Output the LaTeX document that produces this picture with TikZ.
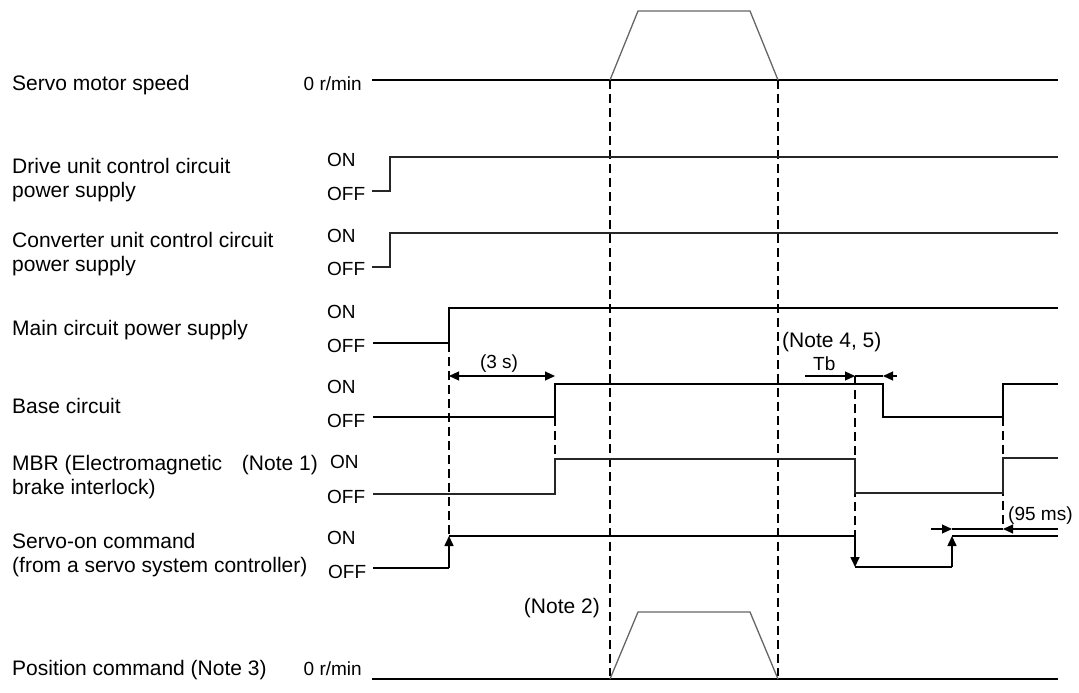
\documentclass[tikz,border=0pt]{standalone}
\usepackage{fontspec}
\setmainfont{Liberation Sans}
\usetikzlibrary{arrows.meta}
\begin{document}
\begin{tikzpicture}[x=1pt,y=-1pt,
  title/.style={anchor=base west,inner sep=0pt,font=\fontsize{21}{24}\selectfont},
  titler/.style={anchor=base east,inner sep=0pt,font=\fontsize{21}{24}\selectfont},
  lvl/.style={anchor=base west,inner sep=0pt,font=\fontsize{19}{22}\selectfont},
  rlab/.style={anchor=base east,inner sep=0pt,font=\fontsize{19}{22}\selectfont},
  sig/.style={line width=1.6pt,black,line join=miter},
  thinsig/.style={line width=1.3pt,black!85},
  ramp/.style={line width=1.3pt,black!60},
  guide/.style={line width=1.4pt,black,dash pattern=on 9pt off 5pt},
  tipend/.style={-{Triangle[length=10pt,width=9pt]}},
  dimline/.style={line width=1.1pt,black}]
\useasboundingbox (0,0) rectangle (1079,693);

% ---------- left titles ----------
\node[title] (t1) at (12,90) {Servo motor speed};
\node[title] (t2a) at (12,173) {Drive unit control circuit};
\node[title] (t2b) at (12,197) {power supply};
\node[title] (t3a) at (12,247) {Converter unit control circuit};
\node[title] (t3b) at (12,271) {power supply};
\node[title] (t4) at (12,335) {Main circuit power supply};
\node[title] (t5) at (12,413) {Base circuit};
\node[title] (t6a) at (12,470) {MBR (Electromagnetic};
\node[titler] (n1) at (318,470) {(Note 1)};
\node[title] (t6b) at (12,494) {brake interlock)};
\node[title] (t7a) at (12,548) {Servo-on command};
\node[title] (t7b) at (12,572) {(from a servo system controller)};
\node[title] (t8) at (12,675) {Position command (Note 3)};

% ---------- level labels ----------
\node[rlab] (z1) at (362,91) {0 r/min};
\node[lvl] (on2) at (327,166) {ON};
\node[lvl] (off2) at (327,200) {OFF};
\node[lvl] (on3) at (327,242) {ON};
\node[lvl] (off3) at (327,275) {OFF};
\node[lvl] (on4) at (327,318) {ON};
\node[lvl] (off4) at (327,352) {OFF};
\node[lvl] (on5) at (327,393) {ON};
\node[lvl] (off5) at (327,427) {OFF};
\node[lvl] (on6) at (330,468) {ON};
\node[lvl] (off6) at (327,503) {OFF};
\node[lvl] (on7) at (327,544) {ON};
\node[lvl] (off7) at (328,578) {OFF};
\node[rlab] (z8) at (362,675) {0 r/min};

% ---------- guides ----------
\draw[guide] (610,80) -- (610,676);
\draw[guide] (778,80) -- (778,676);
\draw[guide] (449,343) -- (449,540);
\draw[guide] (555,417) -- (555,459);
\draw[guide] (855,376) -- (855,540);
\draw[guide] (1003,417) -- (1003,529);

% ---------- servo motor speed ----------
\draw[sig] (372,80) -- (1058,80);
\draw[ramp] (610,80) -- (638,11) -- (750,11) -- (778,80);

% ---------- drive / converter ----------
\draw[thinsig] (372,191) -- (390,191) -- (390,157) -- (1058,157);
\draw[thinsig] (372,267) -- (390,267) -- (390,233) -- (1058,233);

% ---------- main circuit ----------
\draw[sig] (373,343) -- (449,343) -- (449,308) -- (1058,308);

% ---------- base circuit ----------
\draw[sig] (373,417) -- (555,417) -- (555,384) -- (883,384) -- (883,417) -- (1003,417) -- (1003,384) -- (1058,384);

% ---------- MBR ----------
\draw[thinsig] (373,494) -- (555,494) -- (555,459) -- (855,459) -- (855,493) -- (1003,493) -- (1003,458) -- (1058,458);

% ---------- servo-on ----------
\draw[sig] (373,568) -- (449,568);
\draw[sig,tipend] (449,568) -- (449,536);
\draw[sig] (449,536) -- (855,536);
\draw[sig,tipend] (855,536) -- (855,567);
\draw[sig] (855,567) -- (952,567);
\draw[sig,tipend] (952,567) -- (952,536);
\draw[sig] (952,536) -- (1058,536);

% ---------- position command ----------
\draw[sig] (372,679) -- (1058,679);
\draw[ramp] (610,679) -- (638,612) -- (750,612) -- (778,679);

% ---------- dimensions ----------
\draw[dimline,{Triangle[length=10pt,width=9pt]}-{Triangle[length=10pt,width=9pt]}] (449,376) -- (555,376);
\node[anchor=base,inner sep=0pt,font=\fontsize{19}{22}\selectfont] (d3) at (499,368) {(3 s)};

\draw[dimline,tipend] (805,376) -- (855,376);
\draw[dimline] (855,376) -- (883,376);
\draw[dimline,tipend] (897,376) -- (883,376);
\node[lvl] (tb) at (813,370) {Tb};
\node[title] (n45) at (782,347) {(Note 4, 5)};

\draw[dimline,tipend] (931,529) -- (952,529);
\draw[dimline] (952,529) -- (1003,529);
\draw[dimline,tipend] (1058,529) -- (1003,529);
\node[lvl] (d95) at (1008,520) {(95 ms)};

\node[titler] (n2) at (600,613) {(Note 2)};
\end{tikzpicture}
\end{document}
